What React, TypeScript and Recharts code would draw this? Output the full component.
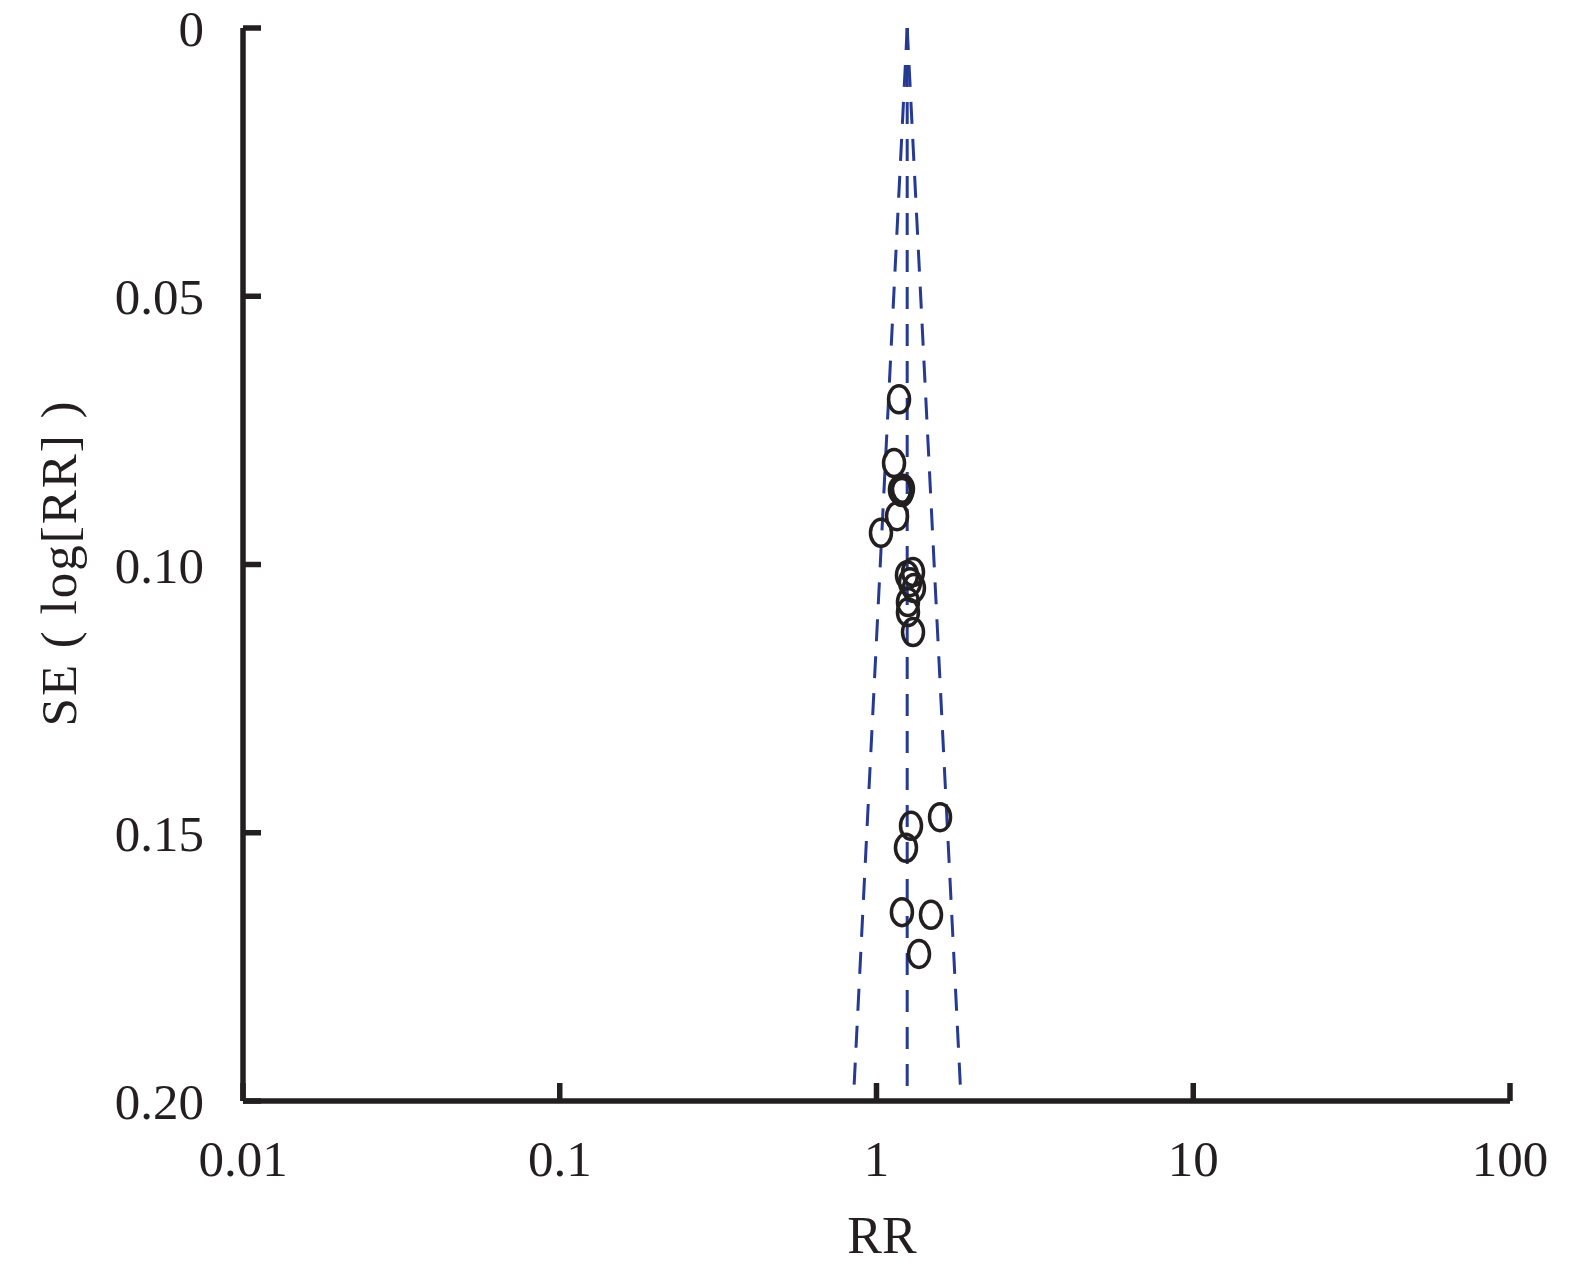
import {
  ScatterChart,
  Scatter,
  XAxis,
  YAxis,
  ReferenceLine,
  Label,
} from 'recharts';

// study estimates (RR, standard error of log RR)
const studyRR = [
  1.178, 1.136, 1.186, 1.203, 1.212, 1.161, 1.033, 1.248, 1.304, 1.276,
  1.313, 1.257, 1.257, 1.304, 1.285, 1.587, 1.239, 1.203, 1.486, 1.362,
];
const studySE = [
  0.0692, 0.0811, 0.0861, 0.0865, 0.0859, 0.091, 0.0941, 0.102, 0.1014, 0.1033,
  0.1044, 0.107, 0.1089, 0.1126, 0.1487, 0.1471, 0.1528, 0.1648, 0.1653, 0.1726,
];

// pooled estimate and 95% limits at the bottom of the funnel
const pooledRR = 1.25;
const funnelLower = 0.845;
const funnelUpper = 1.85;
const funnelBaseSE = 0.2;

const xTicks = [0.01, 0.1, 1, 10, 100];
const xTickLabels = ['0.01', '0.1', '1', '10', '100'];
const yTicks = [0, 0.05, 0.1, 0.15, 0.2];
const yTickLabels = ['0', '0.05', '0.10', '0.15', '0.20'];

const points = studyRR.map((rr, i) => ({ rr, se: studySE[i] }));

const INK = '#231f20';
const BLUE = '#263a94';
const FONT = '"Liberation Serif", "DejaVu Serif", serif';

function Ring(props: { cx?: number; cy?: number }) {
  const { cx, cy } = props;
  if (cx == null || cy == null) return null;
  return <ellipse cx={cx} cy={cy} rx={10.5} ry={13.5} fill="none" stroke={INK} strokeWidth={3.5} />;
}

export default function App() {
  const dash = '22 15';
  return (
    <div style={{ position: 'absolute', left: 0, top: 0, background: '#fff' }}>
      <ScatterChart
        width={1575}
        height={1273}
        margin={{ top: 28, right: 65, bottom: 72, left: 93 }}
      >
        <XAxis
          type="number"
          dataKey="rr"
          scale="log"
          domain={[0.01, 100]}
          ticks={xTicks}
          interval={0}
          allowDataOverflow
          height={100}
          tickSize={-18}
          tickMargin={57}
          axisLine={{ stroke: INK, strokeWidth: 5.5 }}
          tickLine={{ stroke: INK, strokeWidth: 5.5 }}
          tickFormatter={(v: number) => xTickLabels[xTicks.indexOf(v)] ?? String(v)}
          tick={{ fill: INK, fontSize: 51, fontFamily: FONT }}
        >
          <Label
            value="RR"
            position="insideBottom"
            offset={0}
            content={() => (
              <text x={882} y={1253} textAnchor="middle" fill={INK} fontSize={52} fontFamily={FONT}>
                RR
              </text>
            )}
          />
        </XAxis>
        <YAxis
          type="number"
          dataKey="se"
          reversed
          domain={[0, 0.2]}
          ticks={yTicks}
          interval={0}
          allowDataOverflow
          width={150}
          tickSize={-18}
          tickMargin={57}
          axisLine={{ stroke: INK, strokeWidth: 5.5 }}
          tickLine={{ stroke: INK, strokeWidth: 5.5 }}
          tickFormatter={(v: number) => yTickLabels[yTicks.indexOf(v)] ?? String(v)}
          tick={{ fill: INK, fontSize: 51, fontFamily: FONT }}
        >
          <Label
            content={() => (
              <text
                x={0}
                y={0}
                transform="translate(76 563) rotate(-90)"
                textAnchor="middle"
                fill={INK}
                fontSize={51}
                fontFamily={FONT}
                letterSpacing={2}
              >
                SE ( log[RR] )
              </text>
            )}
          />
        </YAxis>
        <ReferenceLine
          segment={[{ x: pooledRR, y: 0 }, { x: pooledRR, y: funnelBaseSE }]}
          stroke={BLUE}
          strokeWidth={3}
          strokeDasharray={dash}
        />
        <ReferenceLine
          segment={[{ x: pooledRR, y: 0 }, { x: funnelLower, y: funnelBaseSE }]}
          stroke={BLUE}
          strokeWidth={3}
          strokeDasharray={dash}
        />
        <ReferenceLine
          segment={[{ x: pooledRR, y: 0 }, { x: funnelUpper, y: funnelBaseSE }]}
          stroke={BLUE}
          strokeWidth={3}
          strokeDasharray={dash}
        />
        <Scatter data={points} shape={<Ring />} isAnimationActive={false} />
      </ScatterChart>
    </div>
  );
}
